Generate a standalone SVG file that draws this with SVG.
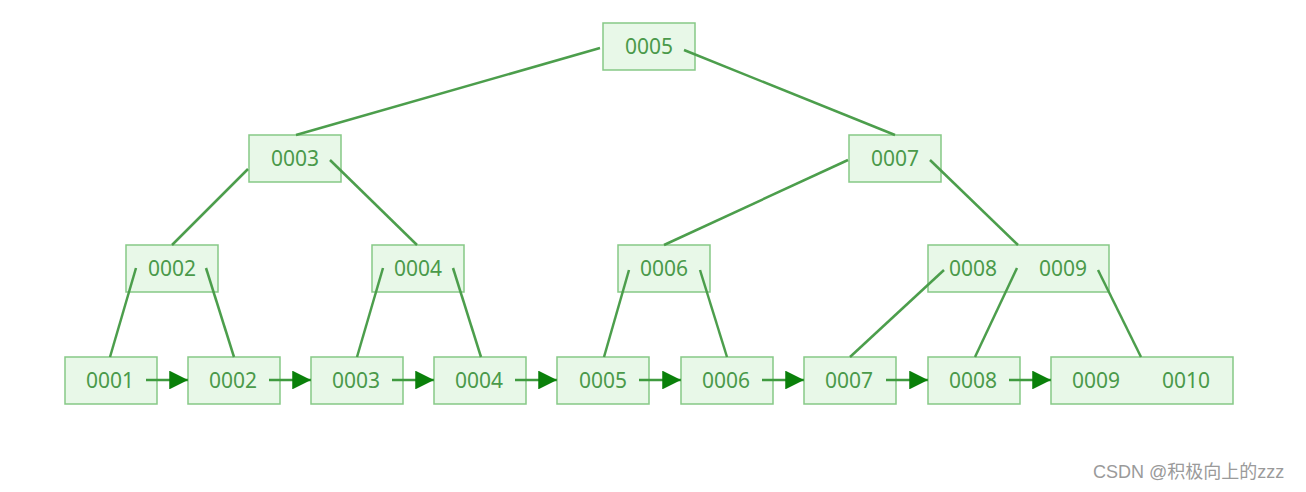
<svg xmlns="http://www.w3.org/2000/svg" width="1306" height="492" viewBox="0 0 1306 492">
<style>
.box{fill:#e8f8e8;stroke:#86c986;stroke-width:1.5}
.t{font-family:"Noto Sans","Open Sans",sans-serif;font-size:21px;fill:#4a9a4a;text-anchor:middle;dominant-baseline:central}
.e{stroke:#4c9e4c;stroke-width:2.5;fill:none}
.a{stroke:#3f9a3f;stroke-width:2.5;fill:none;marker-end:url(#ah)}
.wm{font-family:"Liberation Sans","Noto Sans CJK SC",sans-serif;font-size:18px;fill:#9a9a9a}
</style>
<defs>
<marker id="ah" viewBox="0 0 10 10" refX="10" refY="5" markerWidth="7.5" markerHeight="7.5" markerUnits="strokeWidth" orient="auto">
<path d="M0,0 L10,5 L0,10 z" fill="#0a800a"/>
</marker>
</defs>
<rect width="1306" height="492" fill="#ffffff"/>
<g id="n-root"><rect class="box" x="603" y="23" width="92" height="47"/><text class="t" x="649" y="46">0005</text></g>
<g id="n-0003"><rect class="box" x="249" y="135" width="92" height="47"/><text class="t" x="295" y="158">0003</text></g>
<g id="n-0007"><rect class="box" x="849" y="135" width="92" height="47"/><text class="t" x="895" y="158">0007</text></g>
<g id="n-0002i"><rect class="box" x="126" y="245" width="92" height="47"/><text class="t" x="172" y="268">0002</text></g>
<g id="n-0004i"><rect class="box" x="372" y="245" width="92" height="47"/><text class="t" x="418" y="268">0004</text></g>
<g id="n-0006i"><rect class="box" x="618" y="245" width="92" height="47"/><text class="t" x="664" y="268">0006</text></g>
<g id="n-0008-0009"><rect class="box" x="928" y="245" width="181" height="47"/><text class="t" x="973" y="268">0008</text><text class="t" x="1063" y="268">0009</text></g>
<g id="l-0001"><rect class="box" x="65" y="357" width="92" height="47"/><text class="t" x="110" y="380">0001</text></g>
<g id="l-0002"><rect class="box" x="188" y="357" width="92" height="47"/><text class="t" x="233" y="380">0002</text></g>
<g id="l-0003"><rect class="box" x="311" y="357" width="92" height="47"/><text class="t" x="356" y="380">0003</text></g>
<g id="l-0004"><rect class="box" x="434" y="357" width="92" height="47"/><text class="t" x="479" y="380">0004</text></g>
<g id="l-0005"><rect class="box" x="557" y="357" width="92" height="47"/><text class="t" x="603" y="380">0005</text></g>
<g id="l-0006"><rect class="box" x="681" y="357" width="92" height="47"/><text class="t" x="726" y="380">0006</text></g>
<g id="l-0007"><rect class="box" x="804" y="357" width="92" height="47"/><text class="t" x="849" y="380">0007</text></g>
<g id="l-0008"><rect class="box" x="928" y="357" width="92" height="47"/><text class="t" x="973" y="380">0008</text></g>
<g id="l-0009-0010"><rect class="box" x="1051" y="357" width="182" height="47"/><text class="t" x="1096" y="380">0009</text><text class="t" x="1186" y="380">0010</text></g>
<g id="connectors">
<line class="e" x1="600" y1="48" x2="296" y2="135"/>
<line class="e" x1="684" y1="50" x2="895" y2="135"/>
<line class="e" x1="248" y1="169" x2="172" y2="245"/>
<line class="e" x1="330" y1="160" x2="417" y2="245"/>
<line class="e" x1="848" y1="160" x2="664" y2="245"/>
<line class="e" x1="930" y1="160" x2="1018" y2="245"/>
<line class="e" x1="136" y1="268" x2="110" y2="357"/>
<line class="e" x1="206" y1="268" x2="234" y2="357"/>
<line class="e" x1="383" y1="268" x2="357" y2="357"/>
<line class="e" x1="453" y1="268" x2="481" y2="357"/>
<line class="e" x1="629" y1="270" x2="604" y2="357"/>
<line class="e" x1="700" y1="270" x2="727" y2="357"/>
<line class="e" x1="944" y1="270" x2="850" y2="357"/>
<line class="e" x1="1017" y1="268" x2="975" y2="357"/>
<line class="e" x1="1098" y1="270" x2="1141" y2="357"/>
<line class="a" x1="146" y1="380" x2="188" y2="380"/>
<line class="a" x1="269" y1="380" x2="311" y2="380"/>
<line class="a" x1="392" y1="380" x2="434" y2="380"/>
<line class="a" x1="515" y1="380" x2="557" y2="380"/>
<line class="a" x1="639" y1="380" x2="681" y2="380"/>
<line class="a" x1="762" y1="380" x2="804" y2="380"/>
<line class="a" x1="886" y1="380" x2="928" y2="380"/>
<line class="a" x1="1009" y1="380" x2="1051" y2="380"/>
</g>
<text class="wm" x="1093" y="478">CSDN @积极向上的zzz</text>
</svg>
